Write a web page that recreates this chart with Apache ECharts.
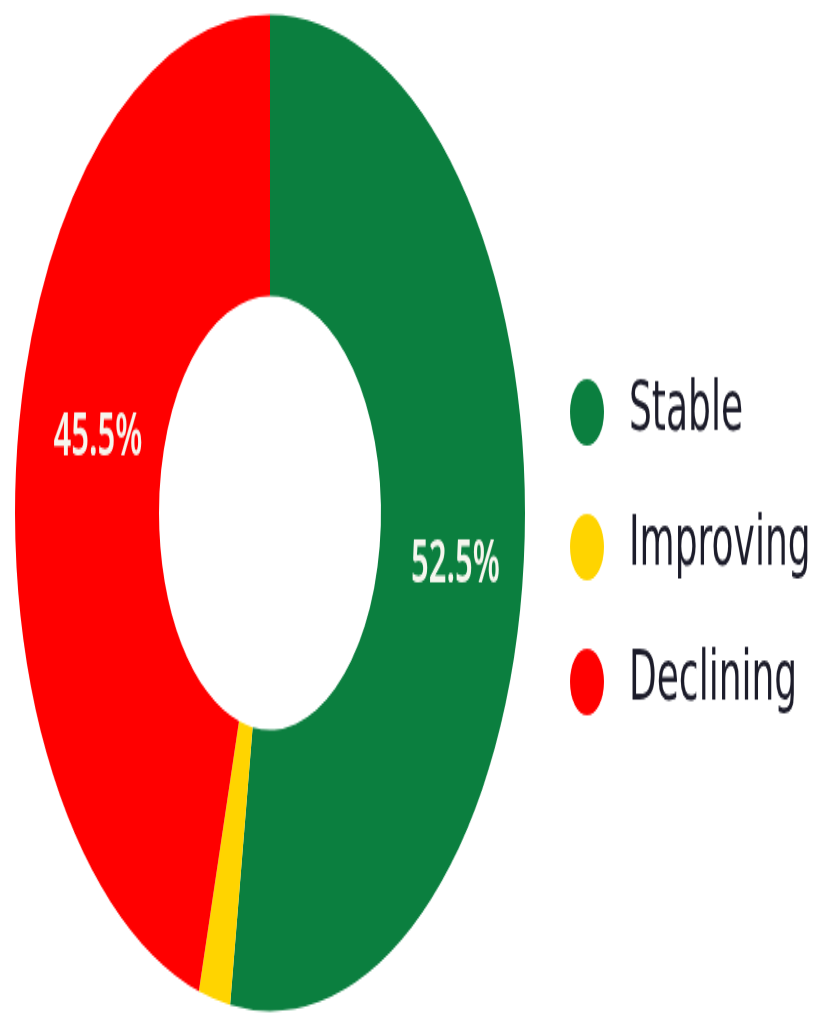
<!DOCTYPE html>
<html>
<head>
<meta charset="utf-8">
<script src="https://cdn.jsdelivr.net/npm/echarts@6/dist/echarts.min.js"></script>
<style>
  html, body { margin: 0; padding: 0; background: #ffffff; }
  #frame {
    position: relative;
    width: 837px;
    height: 1018px;
  }
  #chart {
    position: absolute;
    left: 0;
    top: 0;
    width: 837px;
    height: 521px;
    transform: scaleY(1.954);
    transform-origin: 0 0;
  }
</style>
</head>
<body>
<div id="frame"><div id="chart"></div></div>
<script>
// Trend shares
const categories = ['Stable', 'Improving', 'Declining'];
const shares = [52.5, 2.0, 45.5];
const colors = ['#0b7f3f', '#ffd400', '#ff0000'];
// label nudges within the ring
const labelOffsets = [[0, 12], [0, 0], [12, -12]];

const chart = echarts.init(document.getElementById('chart'), null, { renderer: 'canvas' });

const data = categories.map((name, i) => ({
  name: name,
  value: shares[i],
  itemStyle: { color: colors[i] },
  label: {
    show: name !== 'Improving',
    offset: labelOffsets[i]
  }
}));

chart.setOption({
  animation: false,
  legend: {
    orient: 'vertical',
    left: 565,
    top: 188,
    icon: 'circle',
    itemWidth: 34,
    itemHeight: 34,
    itemGap: 33,
    data: categories,
    textStyle: {
      fontFamily: 'DejaVu Sans',
      fontSize: 36,
      lineHeight: 34,
      color: '#1c1c2a',
      padding: [0, 0, 0, 20]
    }
  },
  series: [{
    type: 'pie',
    center: [270, 262.5],
    radius: [111, 255],
    startAngle: 90,
    clockwise: true,
    avoidLabelOverlap: false,
    label: {
      position: 'inside',
      formatter: p => p.value.toFixed(1) + '%',
      fontFamily: 'Noto Sans',
      fontSize: 31,
      fontWeight: 600,
      color: '#f6f6ee'
    },
    labelLine: { show: false },
    emphasis: { disabled: true },
    data: data
  }]
});
</script>
</body>
</html>
